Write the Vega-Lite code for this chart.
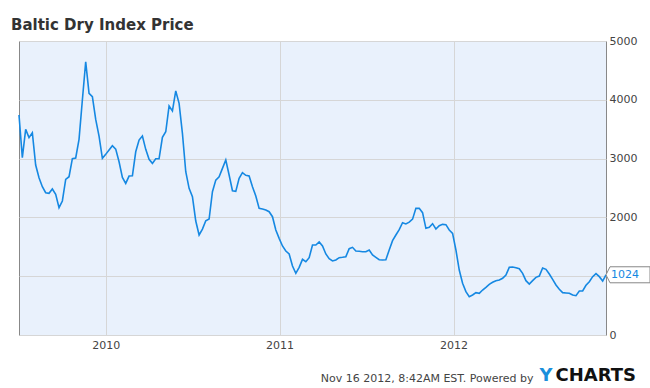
{
  "$schema": "https://vega.github.io/schema/vega-lite/v6.json",
  "width": 587,
  "height": 294,
  "autosize": {"type": "none"},
  "padding": {"left": 19, "top": 41, "right": 44, "bottom": 53},
  "background": "white",
  "title": {"text": "Baltic Dry Index Price", "anchor": "start", "frame": "group", "font": "DejaVu Sans", "fontSize": 15, "fontWeight": "bold", "color": "#333333", "dx": -8, "offset": -10, "baseline": "alphabetic"},
  "config": {
    "view": {"fill": "#e9f1fc", "stroke": "#888888", "strokeWidth": 1},
    "axis": {"labelFont": "DejaVu Sans", "labelFontSize": 11, "labelColor": "#444444", "ticks": false, "domain": false, "gridColor": "#d6d6d6", "gridWidth": 1}
  },
  "data": {"values": [
    {"date": "2009-07-03", "price": 3741},
    {"date": "2009-07-10", "price": 3015},
    {"date": "2009-07-17", "price": 3497},
    {"date": "2009-07-24", "price": 3356},
    {"date": "2009-07-31", "price": 3440},
    {"date": "2009-08-07", "price": 2891},
    {"date": "2009-08-14", "price": 2675},
    {"date": "2009-08-21", "price": 2522},
    {"date": "2009-08-28", "price": 2420},
    {"date": "2009-09-04", "price": 2409},
    {"date": "2009-09-11", "price": 2483},
    {"date": "2009-09-18", "price": 2392},
    {"date": "2009-09-25", "price": 2165},
    {"date": "2009-10-02", "price": 2279},
    {"date": "2009-10-09", "price": 2647},
    {"date": "2009-10-16", "price": 2692},
    {"date": "2009-10-23", "price": 2998},
    {"date": "2009-10-30", "price": 3010},
    {"date": "2009-11-06", "price": 3327},
    {"date": "2009-11-13", "price": 3996},
    {"date": "2009-11-20", "price": 4647},
    {"date": "2009-11-27", "price": 4109},
    {"date": "2009-12-04", "price": 4052},
    {"date": "2009-12-11", "price": 3667},
    {"date": "2009-12-18", "price": 3384},
    {"date": "2009-12-25", "price": 3004},
    {"date": "2010-01-01", "price": 3072},
    {"date": "2010-01-08", "price": 3145},
    {"date": "2010-01-15", "price": 3219},
    {"date": "2010-01-22", "price": 3162},
    {"date": "2010-01-29", "price": 2946},
    {"date": "2010-02-05", "price": 2681},
    {"date": "2010-02-12", "price": 2579},
    {"date": "2010-02-19", "price": 2703},
    {"date": "2010-02-26", "price": 2708},
    {"date": "2010-03-05", "price": 3116},
    {"date": "2010-03-12", "price": 3316},
    {"date": "2010-03-19", "price": 3384},
    {"date": "2010-03-26", "price": 3157},
    {"date": "2010-04-02", "price": 2987},
    {"date": "2010-04-09", "price": 2919},
    {"date": "2010-04-16", "price": 2998},
    {"date": "2010-04-23", "price": 2998},
    {"date": "2010-04-30", "price": 3361},
    {"date": "2010-05-07", "price": 3457},
    {"date": "2010-05-14", "price": 3895},
    {"date": "2010-05-21", "price": 3810},
    {"date": "2010-05-28", "price": 4150},
    {"date": "2010-06-04", "price": 3940},
    {"date": "2010-06-11", "price": 3429},
    {"date": "2010-06-18", "price": 2777},
    {"date": "2010-06-25", "price": 2494},
    {"date": "2010-07-02", "price": 2352},
    {"date": "2010-07-09", "price": 1939},
    {"date": "2010-07-16", "price": 1701},
    {"date": "2010-07-23", "price": 1800},
    {"date": "2010-07-30", "price": 1943},
    {"date": "2010-08-06", "price": 1973},
    {"date": "2010-08-13", "price": 2437},
    {"date": "2010-08-20", "price": 2635},
    {"date": "2010-08-27", "price": 2692},
    {"date": "2010-09-03", "price": 2834},
    {"date": "2010-09-10", "price": 2976},
    {"date": "2010-09-17", "price": 2721},
    {"date": "2010-09-24", "price": 2454},
    {"date": "2010-10-01", "price": 2443},
    {"date": "2010-10-08", "price": 2664},
    {"date": "2010-10-15", "price": 2760},
    {"date": "2010-10-22", "price": 2715},
    {"date": "2010-10-29", "price": 2704},
    {"date": "2010-11-05", "price": 2522},
    {"date": "2010-11-12", "price": 2364},
    {"date": "2010-11-19", "price": 2154},
    {"date": "2010-11-26", "price": 2143},
    {"date": "2010-12-03", "price": 2126},
    {"date": "2010-12-10", "price": 2097},
    {"date": "2010-12-17", "price": 2012},
    {"date": "2010-12-24", "price": 1786},
    {"date": "2010-12-31", "price": 1644},
    {"date": "2011-01-07", "price": 1514},
    {"date": "2011-01-14", "price": 1429},
    {"date": "2011-01-21", "price": 1378},
    {"date": "2011-01-28", "price": 1173},
    {"date": "2011-02-04", "price": 1049},
    {"date": "2011-02-11", "price": 1151},
    {"date": "2011-02-18", "price": 1287},
    {"date": "2011-02-25", "price": 1247},
    {"date": "2011-03-04", "price": 1315},
    {"date": "2011-03-11", "price": 1531},
    {"date": "2011-03-18", "price": 1531},
    {"date": "2011-03-25", "price": 1582},
    {"date": "2011-04-01", "price": 1514},
    {"date": "2011-04-08", "price": 1378},
    {"date": "2011-04-15", "price": 1298},
    {"date": "2011-04-22", "price": 1259},
    {"date": "2011-04-29", "price": 1276},
    {"date": "2011-05-06", "price": 1315},
    {"date": "2011-05-13", "price": 1321},
    {"date": "2011-05-20", "price": 1332},
    {"date": "2011-05-27", "price": 1468},
    {"date": "2011-06-03", "price": 1491},
    {"date": "2011-06-10", "price": 1429},
    {"date": "2011-06-17", "price": 1423},
    {"date": "2011-06-24", "price": 1417},
    {"date": "2011-07-01", "price": 1417},
    {"date": "2011-07-08", "price": 1446},
    {"date": "2011-07-15", "price": 1361},
    {"date": "2011-07-22", "price": 1321},
    {"date": "2011-07-29", "price": 1281},
    {"date": "2011-08-05", "price": 1276},
    {"date": "2011-08-12", "price": 1281},
    {"date": "2011-08-19", "price": 1446},
    {"date": "2011-08-26", "price": 1604},
    {"date": "2011-09-02", "price": 1701},
    {"date": "2011-09-09", "price": 1792},
    {"date": "2011-09-16", "price": 1910},
    {"date": "2011-09-23", "price": 1888},
    {"date": "2011-09-30", "price": 1919},
    {"date": "2011-10-07", "price": 1970},
    {"date": "2011-10-14", "price": 2154},
    {"date": "2011-10-21", "price": 2154},
    {"date": "2011-10-28", "price": 2080},
    {"date": "2011-11-04", "price": 1814},
    {"date": "2011-11-11", "price": 1831},
    {"date": "2011-11-18", "price": 1893},
    {"date": "2011-11-25", "price": 1803},
    {"date": "2011-12-02", "price": 1859},
    {"date": "2011-12-09", "price": 1882},
    {"date": "2011-12-16", "price": 1876},
    {"date": "2011-12-23", "price": 1786},
    {"date": "2011-12-30", "price": 1729},
    {"date": "2012-01-06", "price": 1446},
    {"date": "2012-01-13", "price": 1105},
    {"date": "2012-01-20", "price": 879},
    {"date": "2012-01-27", "price": 737},
    {"date": "2012-02-03", "price": 652},
    {"date": "2012-02-10", "price": 680},
    {"date": "2012-02-17", "price": 720},
    {"date": "2012-02-24", "price": 709},
    {"date": "2012-03-02", "price": 765},
    {"date": "2012-03-09", "price": 811},
    {"date": "2012-03-16", "price": 862},
    {"date": "2012-03-23", "price": 896},
    {"date": "2012-03-30", "price": 924},
    {"date": "2012-04-06", "price": 935},
    {"date": "2012-04-13", "price": 964},
    {"date": "2012-04-20", "price": 1020},
    {"date": "2012-04-27", "price": 1151},
    {"date": "2012-05-04", "price": 1157},
    {"date": "2012-05-11", "price": 1145},
    {"date": "2012-05-18", "price": 1128},
    {"date": "2012-05-25", "price": 1049},
    {"date": "2012-06-01", "price": 924},
    {"date": "2012-06-08", "price": 867},
    {"date": "2012-06-15", "price": 924},
    {"date": "2012-06-22", "price": 981},
    {"date": "2012-06-29", "price": 1003},
    {"date": "2012-07-06", "price": 1139},
    {"date": "2012-07-13", "price": 1117},
    {"date": "2012-07-20", "price": 1037},
    {"date": "2012-07-27", "price": 947},
    {"date": "2012-08-03", "price": 850},
    {"date": "2012-08-10", "price": 777},
    {"date": "2012-08-17", "price": 720},
    {"date": "2012-08-24", "price": 714},
    {"date": "2012-08-31", "price": 709},
    {"date": "2012-09-07", "price": 680},
    {"date": "2012-09-14", "price": 669},
    {"date": "2012-09-21", "price": 748},
    {"date": "2012-09-28", "price": 748},
    {"date": "2012-10-05", "price": 845},
    {"date": "2012-10-12", "price": 907},
    {"date": "2012-10-19", "price": 992},
    {"date": "2012-10-26", "price": 1043},
    {"date": "2012-11-02", "price": 992},
    {"date": "2012-11-09", "price": 918},
    {"date": "2012-11-16", "price": 1024}
  ]},
  "layer": [
    {
      "mark": {"type": "line", "color": "#1588e2", "strokeWidth": 1.6},
      "encoding": {
        "x": {"field": "date", "type": "temporal", "scale": {"type": "utc", "nice": false},
          "axis": {"orient": "bottom", "grid": true, "format": "%Y", "tickCount": {"interval": "year", "step": 1}, "labelPadding": 4,
            "title": "Nov 16 2012, 8:42AM EST. Powered by", "titleFont": "DejaVu Sans", "titleFontSize": 11, "titleFontWeight": "normal", "titleColor": "#444444",
            "titleX": 514, "titleY": 46, "titleAlign": "right", "titleBaseline": "alphabetic"}},
        "y": {"field": "price", "type": "quantitative", "scale": {"domain": [0, 5000], "nice": false},
          "axis": {"orient": "right", "grid": true, "values": [0, 1000, 2000, 3000, 4000, 5000], "format": "d", "labelExpr": "datum.value == 1000 ? '' : datum.label", "labelPadding": 3,
            "title": "CHARTS", "titleFont": "DejaVu Sans", "titleFontSize": 18, "titleFontWeight": "bold", "titleColor": "#111111",
            "titleAngle": 0, "titleX": -51, "titleY": 339, "titleAlign": "left", "titleBaseline": "alphabetic"}}
      }
    },
    {
      "transform": [{"filter": {"field": "date", "equal": {"year": 2012, "month": 11, "date": 16, "utc": true}}}],
      "mark": {"type": "point", "shape": "M0,0L0.091,-0.182L1,-0.182L1,0.182L0.091,0.182Z", "size": 7744, "filled": true, "fill": "white", "stroke": "#888888", "strokeWidth": 1, "opacity": 1},
      "encoding": {
        "x": {"field": "date", "type": "temporal",
          "axis": {"orient": "top", "grid": false, "labels": false, "title": null}},
        "y": {"field": "price", "type": "quantitative",
          "axis": {"orient": "left", "grid": false, "labels": false,
            "title": "Y", "titleFont": "DejaVu Sans", "titleFontSize": 18, "titleFontWeight": "bold", "titleColor": "#1a8fdc",
            "titleAngle": 0, "titleX": 520, "titleY": 339, "titleAlign": "left", "titleBaseline": "alphabetic"}}
      }
    },
    {
      "transform": [{"filter": {"field": "date", "equal": {"year": 2012, "month": 11, "date": 16, "utc": true}}}],
      "mark": {"type": "text", "align": "left", "baseline": "middle", "dx": 5, "font": "DejaVu Sans", "fontSize": 11, "color": "#1588e2"},
      "encoding": {
        "x": {"field": "date", "type": "temporal", "axis": null},
        "y": {"field": "price", "type": "quantitative", "axis": null},
        "text": {"field": "price", "type": "quantitative"}
      }
    }
  ],
  "resolve": {"axis": {"x": "independent", "y": "independent"}}
}
